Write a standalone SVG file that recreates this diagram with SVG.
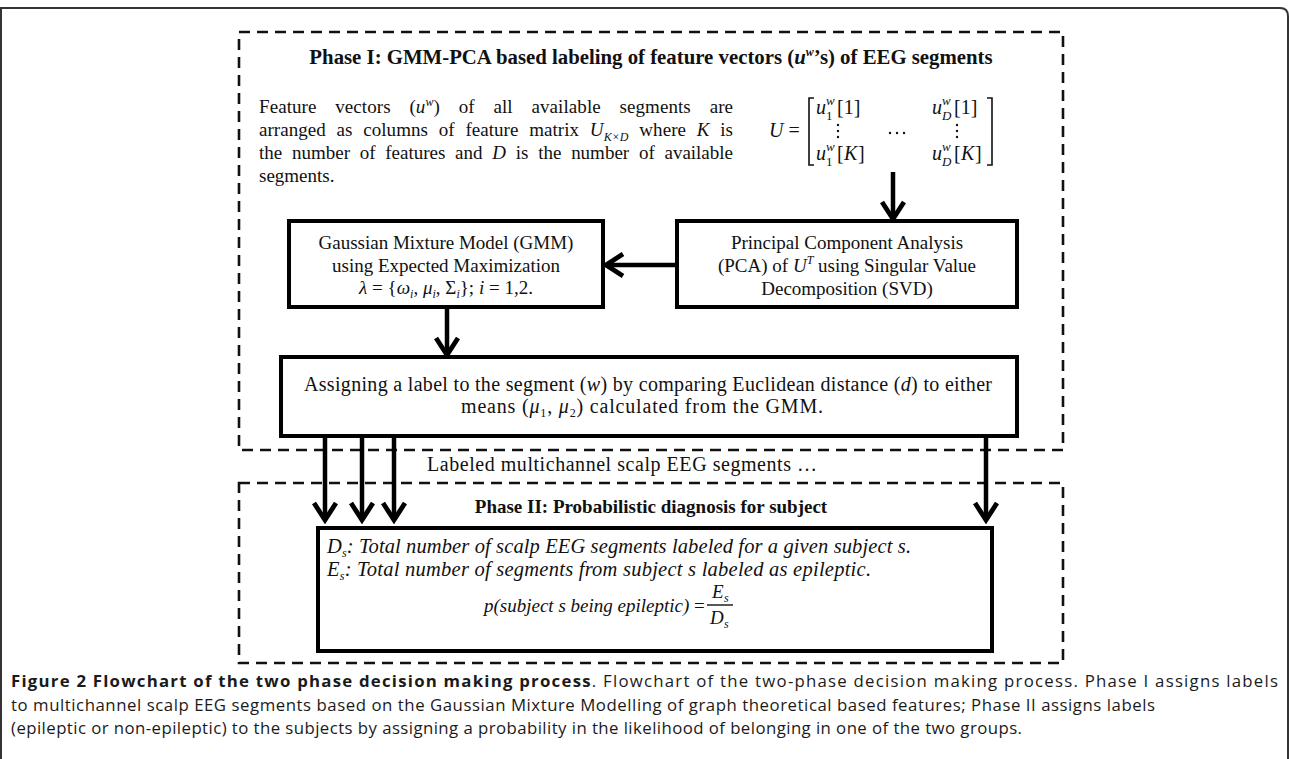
<svg xmlns="http://www.w3.org/2000/svg" width="1290" height="759" viewBox="0 0 1290 759">
<style>
.t{font-family:"Liberation Serif","Times New Roman",serif;font-size:19px;fill:#111}
.b{font-weight:bold}
.i{font-style:italic}
.m{font-family:"Liberation Serif","DejaVu Serif",serif;font-style:italic}
.sub{font-size:12px}
.mx{font-size:20px}
.ms{font-size:13px}
.dash{fill:none;stroke:#111;stroke-width:2.6;stroke-dasharray:11 7}
.box{fill:#fff;stroke:#000;stroke-width:4}
.arr{fill:none;stroke:#000;stroke-width:4.5;marker-end:url(#ah)}
.cap{font-family:"Open Sans","Noto Sans",sans-serif;font-size:16.8px;fill:#1a1a1a}
</style>
<defs>
<marker id="ah" markerUnits="userSpaceOnUse" viewBox="0 0 24 26" markerWidth="24" markerHeight="26" refX="20" refY="13" orient="auto">
<path d="M3,2 L20,13 L3,24" fill="none" stroke="#000" stroke-width="4.8"/>
</marker>
</defs>
<rect width="1290" height="759" fill="#fff"/>
<path d="M1,759 L1,8 L1280,8 Q1288,8 1288,16 L1288,759" fill="none" stroke="#333" stroke-width="2"/>

<g id="phase1">
<rect class="dash" x="239" y="32" width="824" height="418"/>
<text class="t b" x="651" y="64" text-anchor="middle" style="font-size:20.8px">Phase I: GMM-PCA based labeling of feature vectors (<tspan class="m">u</tspan><tspan class="m sub" dy="-8">w</tspan><tspan dy="8">’s) of EEG segments</tspan></text>
</g>

<g id="features-text">
<text class="t" x="259" y="113" word-spacing="14" textLength="474" lengthAdjust="spacing">Feature vectors (<tspan class="m">u</tspan><tspan class="m sub" dy="-7">w</tspan><tspan dy="7">) of all available segments are</tspan></text>
<text class="t" x="259" y="136" word-spacing="6" textLength="474" lengthAdjust="spacing">arranged as columns of feature matrix <tspan class="m">U</tspan><tspan class="m sub" dy="5">K×D</tspan><tspan dy="-5"> where </tspan><tspan class="m">K</tspan> is</text>
<text class="t" x="259" y="159" word-spacing="5" textLength="474" lengthAdjust="spacing">the number of features and <tspan class="m">D</tspan> is the number of available</text>
<text class="t" x="259" y="182">segments.</text>
</g>

<g id="matrix">
<text class="t mx" x="769" y="137"><tspan class="m">U</tspan> =</text>
<path d="M814,98 L809,98 L809,165 L814,165 M987,98 L992,98 L992,165 L987,165" fill="none" stroke="#111" stroke-width="1.6"/>
<text class="t m mx" x="816" y="114">u</text><text class="t m ms" x="826" y="105">w</text><text class="t ms" x="826" y="120">1</text><text class="t mx" x="837" y="114">[1]</text>
<text class="t m mx" x="932" y="114">u</text><text class="t m ms" x="942" y="105">w</text><text class="t m ms" x="942" y="120">D</text><text class="t mx" x="954" y="114">[1]</text>
<text class="t m mx" x="816" y="160">u</text><text class="t m ms" x="826" y="151">w</text><text class="t ms" x="826" y="166">1</text><text class="t mx" x="837" y="160">[</text><text class="t m mx" x="844" y="160">K</text><text class="t mx" x="858" y="160">]</text>
<text class="t m mx" x="932" y="160">u</text><text class="t m ms" x="942" y="151">w</text><text class="t m ms" x="942" y="166">D</text><text class="t mx" x="954" y="160">[</text><text class="t m mx" x="961" y="160">K</text><text class="t mx" x="975" y="160">]</text>
<g fill="#111"><circle cx="838" cy="125" r="1.2"/><circle cx="838" cy="131" r="1.2"/><circle cx="838" cy="137" r="1.2"/>
<circle cx="957" cy="125" r="1.2"/><circle cx="957" cy="131" r="1.2"/><circle cx="957" cy="137" r="1.2"/>
<circle cx="890" cy="133" r="1.2"/><circle cx="897" cy="133" r="1.2"/><circle cx="904" cy="133" r="1.2"/></g>
</g>

<g id="pca">
<rect class="box" x="677" y="221" width="340" height="86"/>
<text class="t" x="847" y="249" text-anchor="middle">Principal Component Analysis</text>
<text class="t" x="847" y="272" text-anchor="middle">(PCA) of <tspan class="m">U</tspan><tspan class="m sub" dy="-8">T</tspan><tspan dy="8"> using Singular Value</tspan></text>
<text class="t" x="847" y="295" text-anchor="middle">Decomposition (SVD)</text>
</g>

<g id="gmm">
<rect class="box" x="289" y="221" width="314" height="86"/>
<text class="t" x="446" y="249" text-anchor="middle">Gaussian Mixture Model (GMM)</text>
<text class="t" x="446" y="272" text-anchor="middle">using Expected Maximization</text>
<text class="t" x="446" y="294" text-anchor="middle"><tspan class="m">λ</tspan> = {<tspan class="m">ω</tspan><tspan class="m sub" dy="4">i</tspan><tspan dy="-4">, </tspan><tspan class="m">μ</tspan><tspan class="m sub" dy="4">i</tspan><tspan dy="-4">, Σ</tspan><tspan class="m sub" dy="4">i</tspan><tspan dy="-4">}; </tspan><tspan class="m">i</tspan> = 1,2.</text>
</g>

<g id="assign">
<rect class="box" x="281" y="357" width="736" height="79"/>
<text class="t" x="304" y="391" style="font-size:20px" textLength="688" lengthAdjust="spacing">Assigning a label to the segment (<tspan class="m">w</tspan>) by comparing Euclidean distance (<tspan class="m">d</tspan>) to either</text>
<text class="t" x="461" y="413" style="font-size:20px" textLength="362" lengthAdjust="spacing">means (<tspan class="m">μ</tspan><tspan class="sub" dy="4">1</tspan><tspan dy="-4">, </tspan><tspan class="m">μ</tspan><tspan class="sub" dy="4">2</tspan><tspan dy="-4">) calculated from the GMM.</tspan></text>
</g>

<g id="label">
<text class="t" x="427" y="471" style="font-size:20px" textLength="390" lengthAdjust="spacing">Labeled multichannel scalp EEG segments …</text>
</g>

<g id="phase2">
<rect class="dash" x="239" y="483" width="824" height="180"/>
<text class="t b" x="651" y="513" text-anchor="middle">Phase II: Probabilistic diagnosis for subject</text>
<rect class="box" x="318" y="528" width="674" height="123"/>
<text class="t i" x="327" y="553" style="font-size:20.5px" textLength="584" lengthAdjust="spacing"><tspan class="m">D</tspan><tspan class="m sub" dy="4">s</tspan><tspan dy="-4">: Total number of scalp EEG segments labeled for a given subject s.</tspan></text>
<text class="t i" x="327" y="576" style="font-size:20.5px" textLength="544" lengthAdjust="spacing"><tspan class="m">E</tspan><tspan class="m sub" dy="4">s</tspan><tspan dy="-4">: Total number of segments from subject s labeled as epileptic.</tspan></text>
<text class="t m" x="484" y="612">p(subject s being epileptic) <tspan font-style="normal">=</tspan></text>
<text class="t m" x="712" y="598">E</text><text class="t m sub" x="724" y="602">s</text>
<line x1="707" y1="605" x2="733" y2="605" stroke="#111" stroke-width="1.4"/>
<text class="t m" x="710" y="624">D</text><text class="t m sub" x="724" y="628">s</text>
</g>

<g id="connectors">
<line class="arr" x1="893" y1="172" x2="893" y2="219"/>
<line class="arr" x1="677" y1="265" x2="606" y2="265"/>
<line class="arr" x1="447" y1="307" x2="447" y2="355"/>
<line class="arr" x1="325" y1="436" x2="325" y2="520"/>
<line class="arr" x1="362" y1="436" x2="362" y2="520"/>
<line class="arr" x1="394" y1="436" x2="394" y2="520"/>
<line class="arr" x1="986" y1="436" x2="986" y2="520"/>
</g>

<g id="caption">
<text class="cap" x="11" y="687" textLength="1267" lengthAdjust="spacing"><tspan font-weight="bold">Figure 2 Flowchart of the two phase decision making process</tspan>. Flowchart of the two-phase decision making process. Phase I assigns labels</text>
<text class="cap" x="11" y="711" textLength="1144" lengthAdjust="spacing">to multichannel scalp EEG segments based on the Gaussian Mixture Modelling of graph theoretical based features; Phase II assigns labels</text>
<text class="cap" x="11" y="734" textLength="1011" lengthAdjust="spacing">(epileptic or non-epileptic) to the subjects by assigning a probability in the likelihood of belonging in one of the two groups.</text>
</g>
</svg>
